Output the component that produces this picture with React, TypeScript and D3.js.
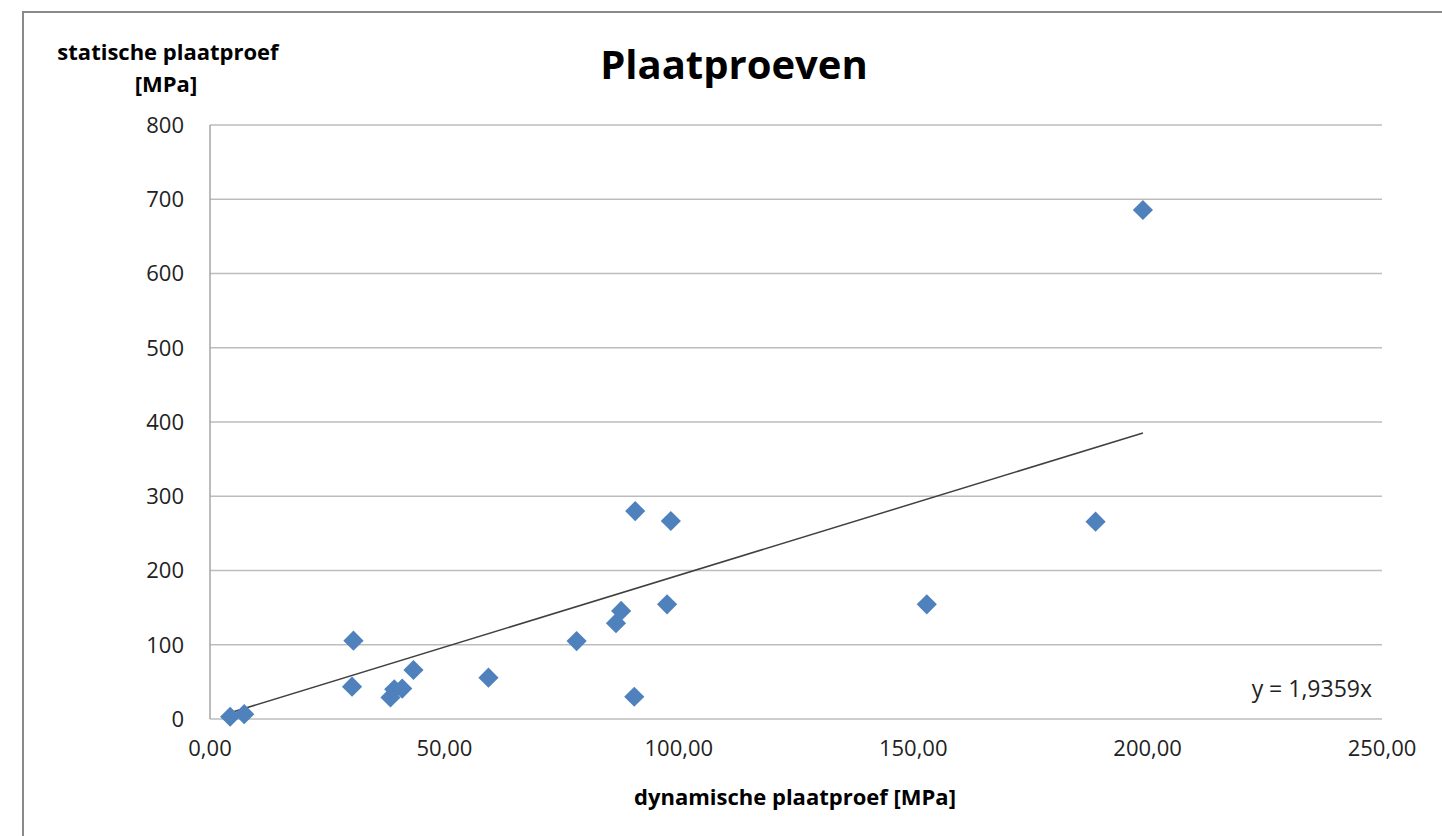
import React from "react";
import * as d3 from "d3";

const dynamisch: number[] = [4.3, 7.3, 30.6, 30.3, 38.5, 39.3, 41.0, 43.4, 59.4, 78.2, 86.6, 87.7, 90.7, 98.3, 97.5, 90.5, 152.9, 188.9, 199.0];
const statisch: number[] = [3, 6.5, 105.5, 43.5, 29, 40, 41, 66, 55.6, 105, 129, 145.5, 280, 266.7, 154.5, 30, 154.5, 265.7, 685.5];
const yTicks: number[] = [0, 100, 200, 300, 400, 500, 600, 700, 800];
const xTicks: number[] = [0, 50, 100, 150, 200, 250];
const slope = 1.9359;

const W = 1442;
const H = 836;
const FONT = "'Open Sans', 'Noto Sans', sans-serif";

export default function App() {
  const x = d3.scaleLinear().domain([0, 250]).range([210, 1382]);
  const y = d3.scaleLinear().domain([0, 800]).range([719, 125]);
  const fmtX = (v: number) => d3.format(".2f")(v).replace(".", ",");
  const xMin = d3.min(dynamisch) as number;
  const xMax = d3.max(dynamisch) as number;
  const trend = d3.line<number>().x((d) => x(d)).y((d) => y(d * slope))([xMin, xMax]) as string;
  const diamond = d3.symbol().type(d3.symbolDiamond2).size(260)() as string;

  return (
    <svg width={W} height={H} style={{ position: "absolute", left: 0, top: 0, background: "#fff" }} fontFamily={FONT}>
      <rect x={23} y={12} width={W} height={H} fill="#fff" stroke="#8a8a8a" strokeWidth={2} />
      {yTicks.map((t) => (
        <line key={"g" + t} x1={x(0)} x2={x(250)} y1={y(t)} y2={y(t)} stroke="#bdbdbd" strokeWidth={1.5} />
      ))}
      <line x1={x(0)} x2={x(0)} y1={y(0)} y2={y(800)} stroke="#a6a6a6" strokeWidth={1.5} />
      {yTicks.map((t) => (
        <text key={"y" + t} x={184} y={y(t)} dy="0.36em" textAnchor="end" fontSize={22} fill="#222">
          {t}
        </text>
      ))}
      {xTicks.map((t) => (
        <text key={"x" + t} x={x(t)} y={756} textAnchor="middle" fontSize={22} fill="#222">
          {fmtX(t)}
        </text>
      ))}
      <path d={trend} stroke="#404040" strokeWidth={1.5} fill="none" />
      {dynamisch.map((d, i) => (
        <path key={"p" + i} d={diamond} transform={`translate(${x(d)},${y(statisch[i])})`} fill="#4f81bd" />
      ))}
      <text x={734} y={79} textAnchor="middle" fontSize={40} fontWeight="bold" fill="#000">
        Plaatproeven
      </text>
      <text x={168} y={60} textAnchor="middle" fontSize={22} fontWeight="bold" fill="#000">
        statische plaatproef
      </text>
      <text x={166} y={92} textAnchor="middle" fontSize={22} fontWeight="bold" fill="#000">
        [MPa]
      </text>
      <text x={795} y={805} textAnchor="middle" fontSize={22} fontWeight="bold" fill="#000">
        dynamische plaatproef [MPa]
      </text>
      <text x={1372} y={697} textAnchor="end" fontSize={23} fill="#222">
        y = 1,9359x
      </text>
    </svg>
  );
}
